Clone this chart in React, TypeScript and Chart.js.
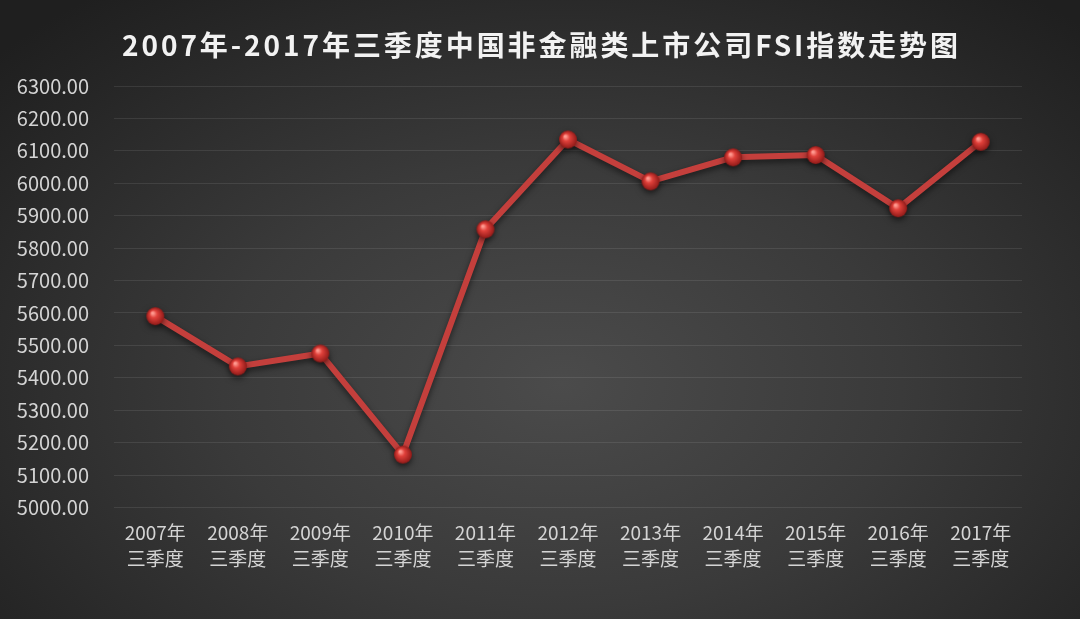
import { Chart, registerables } from 'chart.js';
import type { Plugin } from 'chart.js';
import { useEffect, useRef } from 'react';

Chart.register(...registerables);

const YEARS = ['2007年', '2008年', '2009年', '2010年', '2011年', '2012年', '2013年', '2014年', '2015年', '2016年', '2017年'];
const QUARTER = '三季度';
const FSI_VALUES = [5590, 5435, 5475, 5163, 5858, 6135, 6006, 6080, 6087, 5923, 6128];
const Y_MIN = 5000;
const Y_MAX = 6300;
const Y_STEP = 100;
const TITLE = '2007年-2017年三季度中国非金融类上市公司FSI指数走势图';

const FONT = "'Noto Sans CJK SC', 'Noto Sans', sans-serif";

// little shaded ball used as the point marker
function makeSphere(r: number): HTMLCanvasElement {
    const c = document.createElement('canvas');
    c.width = r * 2 + 2;
    c.height = r * 2 + 2;
    const ctx = c.getContext('2d')!;
    const cx = r + 1;
    const g = ctx.createRadialGradient(cx - r * 0.3, cx - r * 0.35, r * 0.1, cx, cx, r);
    g.addColorStop(0, '#ff9a90');
    g.addColorStop(0.35, '#e0403a');
    g.addColorStop(1, '#8f1a18');
    ctx.fillStyle = g;
    ctx.beginPath();
    ctx.arc(cx, cx, r, 0, Math.PI * 2);
    ctx.fill();
    return c;
}

// the title in the original is spread out, so draw it with letter spacing
const spacedTitle: Plugin<'line'> = {
    id: 'spacedTitle',
    afterDraw(chart) {
        const { ctx, width } = chart;
        ctx.save();
        ctx.font = `bold 28px ${FONT}`;
        ctx.fillStyle = '#f2f2f2';
        ctx.textBaseline = 'middle';
        ctx.textAlign = 'left';
        (ctx as any).letterSpacing = '0px';
        const plain = ctx.measureText(TITLE).width;
        const chars = Array.from(TITLE).length;
        const spacing = Math.max(0, (836 - plain) / (chars - 1));
        (ctx as any).letterSpacing = `${spacing}px`;
        const w = plain + spacing * (chars - 1);
        ctx.fillText(TITLE, width / 2 - w / 2, 45);
        ctx.restore();
    },
};

const lineShadow: Plugin<'line'> = {
    id: 'lineShadow',
    beforeDatasetsDraw(chart) {
        const { ctx } = chart;
        ctx.save();
        ctx.shadowColor = 'rgba(0,0,0,0.55)';
        ctx.shadowBlur = 6;
        ctx.shadowOffsetY = 3;
    },
    afterDatasetsDraw(chart) {
        chart.ctx.restore();
    },
};

export default function App() {
    const canvasRef = useRef<HTMLCanvasElement>(null);

    useEffect(() => {
        document.body.style.margin = '0';
        if (!canvasRef.current) return;
        const sphere = makeSphere(9);

        const chart = new Chart(canvasRef.current, {
            type: 'line',
            data: {
                labels: YEARS.map((y) => [y, QUARTER]),
                datasets: [
                    {
                        label: 'FSI指数',
                        data: FSI_VALUES,
                        borderColor: '#c43f3c',
                        borderWidth: 6,
                        pointStyle: sphere,
                        pointRadius: 9,
                        pointHoverRadius: 9,
                        tension: 0,
                    },
                ],
            },
            plugins: [lineShadow, spacedTitle],
            options: {
                responsive: false,
                animation: false,
                layout: { padding: { top: 86, left: 16, right: 58, bottom: 43 } },
                plugins: {
                    legend: { display: false },
                    tooltip: { enabled: false },
                    title: { display: false },
                },
                scales: {
                    x: {
                        offset: true,
                        grid: { display: false },
                        border: { display: false },
                        ticks: {
                            color: '#d4d4d4',
                            font: { family: FONT, size: 19, lineHeight: 1.33 },
                            padding: 5,
                            maxRotation: 0,
                            autoSkip: false,
                        },
                    },
                    y: {
                        min: Y_MIN,
                        max: Y_MAX,
                        grid: { color: 'rgba(255,255,255,0.09)', lineWidth: 1, drawTicks: false },
                        border: { display: false },
                        afterFit: (scale) => {
                            scale.width = 98;
                        },
                        ticks: {
                            stepSize: Y_STEP,
                            color: '#d4d4d4',
                            font: { family: FONT, size: 20 },
                            padding: 25,
                            callback: (v) => Number(v).toFixed(2),
                        },
                    },
                },
            },
        });

        return () => chart.destroy();
    }, []);

    return (
        <div
            style={{
                width: 1080,
                height: 619,
                background:
                    'radial-gradient(ellipse 70% 80% at 52% 62%, #4b4b4b 0%, #3a3a3a 45%, #262626 85%, #1f1f1f 100%)',
            }}
        >
            <canvas ref={canvasRef} width={1080} height={619} />
        </div>
    );
}
